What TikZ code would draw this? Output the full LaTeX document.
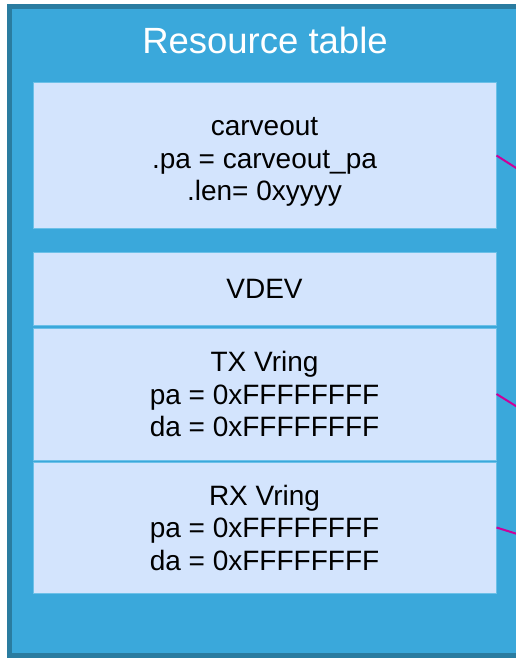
\documentclass[tikz,border=0pt]{standalone}
\usepackage{fontspec}
\setmainfont{Liberation Sans}
\usepackage{tikz}

\definecolor{tblblue}{RGB}{58,168,219}
\definecolor{tbledge}{RGB}{42,124,160}
\definecolor{entryfill}{RGB}{211,228,253}
\definecolor{entryedge}{RGB}{108,192,232}
\definecolor{linkpink}{RGB}{204,0,153}

\begin{document}
\begin{tikzpicture}[x=1pt, y=-1pt, every node/.style={font=\fontsize{28}{32.5}\selectfont, align=center}, entry/.style={draw=entryedge, line width=1pt, fill=entryfill, minimum width=463pt, inner sep=0pt}, link/.style={draw=linkpink, line width=2pt}]
	\useasboundingbox (0,0) rectangle (516,658);
	\clip (0,0) rectangle (516,658);
	\draw[tbledge, fill=tblblue, line width=5pt] (9.5,6.5) rectangle (540,655.5);
	\node[text=white, font=\fontsize{36.5}{40}\selectfont] (title) at (265,40) {Resource table};
	\node[entry, minimum height=145pt] (carveout) at (264.5,155.5) {};
	\node (carveouttxt) at (264.5,162) {carveout\\.pa = carveout\_pa\\.len= 0xyyyy};
	\node[entry, minimum height=73pt] (vdev) at (264.5,288.5) {VDEV};
	\node[entry, minimum height=132pt] (txvring) at (264.5,394) {TX Vring\\pa = 0xFFFFFFFF\\da = 0xFFFFFFFF};
	\node[entry, minimum height=131pt] (rxvring) at (264.5,527.5) {RX Vring\\pa = 0xFFFFFFFF\\da = 0xFFFFFFFF};
	\coordinate (toca) at (530,176.8);
	\coordinate (totx) at (530,414.8);
	\coordinate (torx) at (530,538);
	\draw[link] (carveout.east) -- (toca);
	\draw[link] (txvring.east) -- (totx);
	\draw[link] (rxvring.east) -- (torx);
\end{tikzpicture}
\end{document}
